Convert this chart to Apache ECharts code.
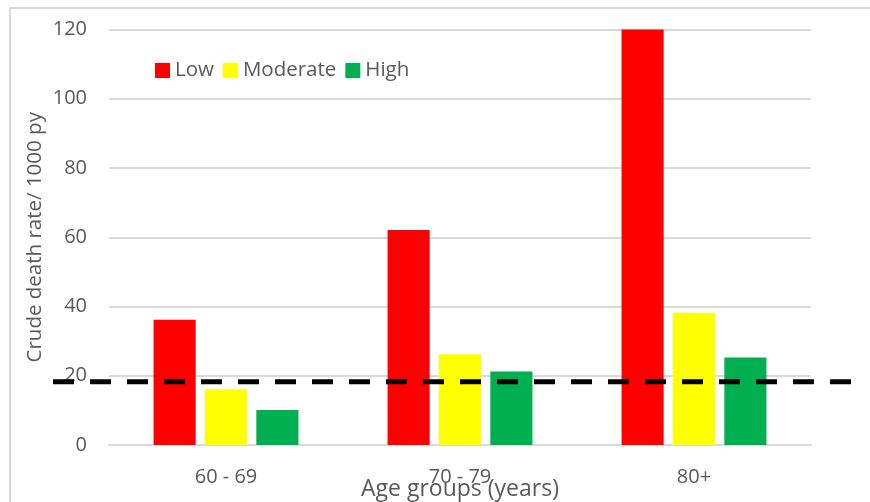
<!DOCTYPE html>
<html>
<head>
<meta charset="utf-8">
<script src="https://cdn.jsdelivr.net/npm/echarts@6/dist/echarts.min.js"></script>
<style>
html,body{margin:0;padding:0;background:#fff;width:870px;height:502px;overflow:hidden;}
#frame{position:absolute;left:9px;top:7px;width:880px;height:520px;border:2px solid #d9d9d9;box-sizing:border-box;}
#c{position:absolute;left:0;top:0;width:870px;height:502px;}
</style>
</head>
<body>
<div id="frame"></div>
<div id="c"></div>
<script>
const categories = ['60 - 69', '70 - 79', '80+'];
const lowValues = [36.2, 62.1, 120];
const moderateValues = [16.1, 26.2, 38.1];
const highValues = [10.1, 21.2, 25.3];
const referenceRate = 18.3;
const yTicks = {min: 0, max: 120, interval: 20};

const chart = echarts.init(document.getElementById('c'));
const font = 'Open Sans';
const grey = '#595959';
chart.setOption({
  animation: false,
  textStyle: {fontFamily: font},
  legend: {
    left: 155, top: 60, padding: 0,
    icon: 'rect',
    itemWidth: 15, itemHeight: 15, itemGap: 9,
    textStyle: {fontSize: 20.5, color: grey, fontFamily: font},
    data: ['Low', 'Moderate', 'High']
  },
  grid: [
    {left: 109, right: 59, top: 29.5, bottom: 57, outerBoundsMode: 'none', containLabel: false},
    {left: 53, right: 11, top: 29.5, bottom: 57, outerBoundsMode: 'none', containLabel: false}
  ],
  xAxis: [
    {
      type: 'category', data: categories, gridIndex: 0,
      axisLine: {lineStyle: {color: '#d9d9d9', width: 2}},
      axisTick: {show: false},
      axisLabel: {fontSize: 20, color: grey, margin: 22},
      name: 'Age groups (years)', nameLocation: 'middle', nameGap: 33, nameMoveOverlap: false,
      nameTextStyle: {fontSize: 23, color: grey, fontFamily: font}
    },
    {type: 'value', gridIndex: 1, min: 0, max: 1, show: false}
  ],
  yAxis: [
    {
      type: 'value', gridIndex: 0, min: yTicks.min, max: yTicks.max, interval: yTicks.interval,
      axisLine: {show: false}, axisTick: {show: false},
      axisLabel: {fontSize: 20, color: grey, margin: 22},
      splitLine: {lineStyle: {color: '#d9d9d9', width: 2}},
      name: 'Crude death rate/ 1000 py', nameLocation: 'middle', nameGap: 63, nameMoveOverlap: false,
      nameTextStyle: {fontSize: 20.5, color: grey, fontFamily: font}
    },
    {type: 'value', gridIndex: 1, min: yTicks.min, max: yTicks.max, show: false}
  ],
  series: [
    {name: 'Low', type: 'bar', data: lowValues, barWidth: '18%', barGap: '22%', itemStyle: {color: '#ff0000'}},
    {name: 'Moderate', type: 'bar', data: moderateValues, barWidth: '18%', barGap: '22%', itemStyle: {color: '#ffff00'}},
    {name: 'High', type: 'bar', data: highValues, barWidth: '18%', barGap: '22%', itemStyle: {color: '#00b050'}},
    {
      name: 'Reference', type: 'line', xAxisIndex: 1, yAxisIndex: 1,
      data: [[0, referenceRate], [1, referenceRate]],
      symbol: 'none', silent: true, z: 5,
      lineStyle: {color: '#000', width: 5, type: [21, 16]}
    }
  ]
});
</script>
</body>
</html>
